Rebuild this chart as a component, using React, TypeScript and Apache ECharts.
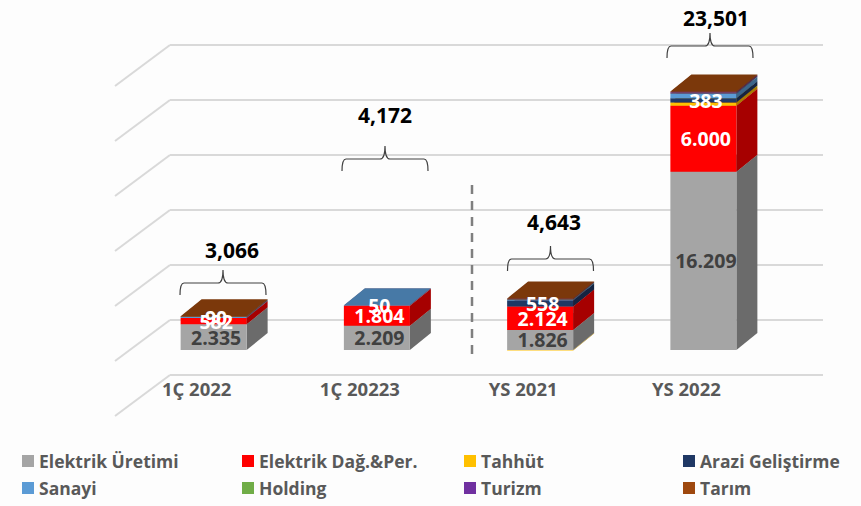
import React, { useEffect, useRef } from "react";
import * as echarts from "echarts";

const categories = ["1Ç 2022", "1Ç 20223", "YS 2021", "YS 2022"];
const ticks = [0, 5000, 10000, 15000, 20000, 25000, 30000];

const elektrikUretimi = [2335, 2209, 1826, 16209];
const elektrikDag = [582, 1804, 2124, 6000];
const tahhut = [0, 0, -40, 300];
const araziGelistirme = [0, 0, 558, 383];
const sanayi = [90, 50, 60, 400];
const holding = [0, 0, 15, 20];
const turizm = [0, 0, 30, 120];
const tarim = [59, 0, 70, 69];

const totals = ["3,066", "4,172", "4,643", "23,501"];

const seriesDefs = [
  { name: "Elektrik Üretimi", color: "#A5A5A5", values: elektrikUretimi },
  { name: "Elektrik Dağ.&Per.", color: "#FF0000", values: elektrikDag },
  { name: "Tahhüt", color: "#FFC000", values: tahhut },
  { name: "Arazi Geliştirme", color: "#1F3864", values: araziGelistirme },
  { name: "Sanayi", color: "#5B9BD5", values: sanayi },
  { name: "Holding", color: "#70AD47", values: holding },
  { name: "Turizm", color: "#7030A0", values: turizm },
  { name: "Tarım", color: "#9E480E", values: tarim },
];
// for each category: the series whose value is printed on the bar
const labelledSeries = [
  ["Elektrik Üretimi", "Elektrik Dağ.&Per.", "Sanayi"],
  ["Elektrik Üretimi", "Elektrik Dağ.&Per.", "Sanayi"],
  ["Elektrik Üretimi", "Elektrik Dağ.&Per.", "Arazi Geliştirme"],
  ["Elektrik Üretimi", "Elektrik Dağ.&Per.", "Arazi Geliştirme"],
];

const FONT = '"Open Sans", sans-serif';
const FRONT_DX = -38;
const HALF = 33;
const FLOOR_DY = -25;
const DEPTH_X = 21;
const DEPTH_Y = -17;
const GRID_COLOR = "#d9d9d9";

const BRACE_X = [223, 385, 550.5, 710];
const BRACE_Y = [270, 146, 246, 33];
const TOTAL_X = [232, 385, 554, 716];
const TOTAL_Y = [250, 115, 222, 18];

const legendPos = [
  [22, 452], [242, 452], [464, 452], [683, 452],
  [22, 479], [242, 479], [464, 479], [683, 479],
];

function shade(hex: string, f: number) {
  const n = parseInt(hex.slice(1), 16);
  const c = (s: number) => Math.round(((n >> s) & 255) * f);
  return `rgb(${c(16)},${c(8)},${c(0)})`;
}

function stacked(values: number[], idx: number) {
  return values.map((v, i) => {
    let base = 0;
    for (let k = 0; k < idx; k++) {
      const o = seriesDefs[k].values[i];
      if (o > 0 === v > 0) base += o;
    }
    return [i, base, base + v];
  });
}

function buildOption() {
  const barSeries = seriesDefs.map((s, idx) => ({
    type: "custom",
    name: s.name,
    coordinateSystem: "cartesian2d",
    itemStyle: { color: s.color },
    encode: { x: 0, y: [1, 2] },
    z: 3,
    data: stacked(s.values, idx),
    renderItem: (_p: any, api: any) => {
      const i = api.value(0);
      const a = api.value(1);
      const b = api.value(2);
      if (a === b) return { type: "group", children: [] };
      const lo = api.coord([i, Math.min(a, b)]);
      const hi = api.coord([i, Math.max(a, b)]);
      const x0 = lo[0] + FRONT_DX - HALF;
      const x1 = lo[0] + FRONT_DX + HALF;
      const y0 = lo[1] + FLOOR_DY;
      const y1 = hi[1] + FLOOR_DY;
      const children: any[] = [
        {
          type: "polygon",
          shape: { points: [[x1, y0], [x1 + DEPTH_X, y0 + DEPTH_Y], [x1 + DEPTH_X, y1 + DEPTH_Y], [x1, y1]] },
          style: { fill: shade(s.color, 0.65) },
        },
        { type: "rect", shape: { x: x0, y: y1, width: x1 - x0, height: y0 - y1 }, style: { fill: s.color } },
      ];
      // a segment below zero has its top hidden inside the bar
      if (b > a) {
        children.push({
          type: "polygon",
          shape: { points: [[x0, y1], [x1, y1], [x1 + DEPTH_X, y1 + DEPTH_Y], [x0 + DEPTH_X, y1 + DEPTH_Y]] },
          style: { fill: shade(s.color, 0.78) },
        });
      }
      return { type: "group", children };
    },
  }));

  const labelData: any[] = [];
  labelledSeries.forEach((names, i) => {
    names.forEach((n) => {
      const idx = seriesDefs.findIndex((d) => d.name === n);
      const [, a, b] = stacked(seriesDefs[idx].values, idx)[i];
      labelData.push([i, (a + b) / 2, seriesDefs[idx].values[i], idx]);
    });
  });

  const labelSeries = {
    type: "custom",
    name: "labels",
    coordinateSystem: "cartesian2d",
    encode: { x: 0, y: 1 },
    z: 5,
    data: labelData,
    renderItem: (_p: any, api: any) => {
      const c = api.coord([api.value(0), api.value(1)]);
      const text = String(api.value(2)).replace(/\B(?=(\d{3})+$)/g, ".");
      return {
        type: "text",
        style: {
          text,
          x: c[0] + FRONT_DX + 2.5,
          y: c[1] + FLOOR_DY,
          fill: api.value(3) === 0 ? "#404040" : "#ffffff",
          font: `bold 19.5px ${FONT}`,
          align: "center",
          verticalAlign: "middle",
        },
      };
    },
  };

  const wallSeries = {
    type: "custom",
    name: "wall",
    coordinateSystem: "cartesian2d",
    encode: { x: 0, y: 1 },
    z: 1,
    silent: true,
    data: ticks.map((t) => [0, t]),
    renderItem: (p: any, api: any) => {
      const y = api.coord([0, api.value(1)])[1];
      const x = p.coordSys.x;
      return {
        type: "line",
        shape: { x1: x, y1: y, x2: x - 55, y2: y + 41 },
        style: { stroke: GRID_COLOR, lineWidth: 2 },
      };
    },
  };

  const braceSeries = {
    type: "custom",
    name: "braces",
    coordinateSystem: "cartesian2d",
    encode: { x: 0, y: 1 },
    z: 4,
    data: totals.map((_, i) => [i, 0]),
    renderItem: (_p: any, api: any) => {
      const i = api.value(0);
      return {
        type: "group",
        children: [
          {
            type: "path",
            shape: {
              pathData: "M0 25 Q0 13 4 13 L38 13 Q43 13 43 0 Q43 13 48 13 L82 13 Q86 13 86 25",
              x: BRACE_X[i] - 43,
              y: BRACE_Y[i],
              width: 86,
              height: 25,
            },
            style: { fill: "none", stroke: "#404040", lineWidth: 1.2 },
          },
          {
            type: "text",
            style: {
              text: totals[i],
              x: TOTAL_X[i],
              y: TOTAL_Y[i],
              fill: "#000000",
              font: `bold 21px ${FONT}`,
              align: "center",
              verticalAlign: "middle",
            },
          },
        ],
      };
    },
  };

  return {
    animation: false,
    backgroundColor: "#fdfdfd",
    textStyle: { fontFamily: FONT },
    grid: { left: 170, right: 38, top: 45, bottom: 131, containLabel: false },
    xAxis: {
      type: "category",
      data: categories,
      axisLine: { show: false },
      axisTick: { show: false },
      splitLine: { show: false },
      axisLabel: {
        interval: 0,
        margin: 4,
        padding: [0, 110, 0, 0],
        color: "#595959",
        fontFamily: FONT,
        fontWeight: "bold",
        fontSize: 18.5,
      },
    },
    yAxis: {
      type: "value",
      min: 0,
      max: 30000,
      interval: 5000,
      axisLine: { show: false },
      axisTick: { show: false },
      axisLabel: { show: false },
      splitLine: { show: true, lineStyle: { color: GRID_COLOR, width: 2 } },
    },
    legend: seriesDefs.map((s, i) => ({
      data: [{ name: s.name, icon: "rect" }],
      left: legendPos[i][0],
      top: legendPos[i][1],
      padding: 0,
      itemWidth: 12,
      itemHeight: 12,
      selectedMode: false,
      textStyle: { color: "#595959", fontFamily: FONT, fontWeight: "bold", fontSize: 17.5 },
    })),
    graphic: [
      {
        type: "line",
        z: 4,
        shape: { x1: 472, y1: 185, x2: 472, y2: 358 },
        style: { stroke: "#7f7f7f", lineWidth: 2.5, lineDash: [9, 7] },
      },
    ],
    series: [wallSeries, ...barSeries, labelSeries, braceSeries],
  };
}

export default function App() {
  const ref = useRef<HTMLDivElement>(null);
  useEffect(() => {
    const chart = echarts.init(ref.current!, null, { renderer: "svg" });
    chart.setOption(buildOption() as any);
    return () => chart.dispose();
  }, []);
  return <div ref={ref} style={{ position: "fixed", left: 0, top: 0, width: 861, height: 506 }} />;
}
